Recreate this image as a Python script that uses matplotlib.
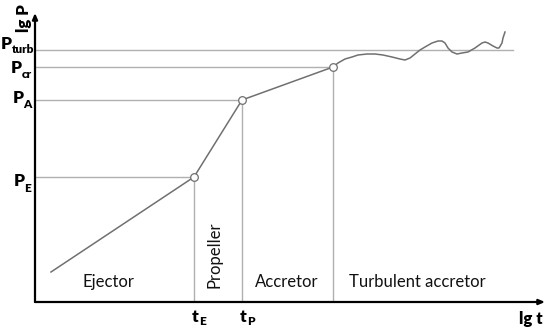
import matplotlib
matplotlib.use("Agg")
import matplotlib.pyplot as plt

plt.rcParams['font.family'] = ['Lato', 'DejaVu Sans']

# Evolution track (lg t, lg P) in arbitrary units
track_t = [16, 159, 207, 298]
track_p = [30, 125, 202, 235]

# Turbulent part of the track
turb_t = [298, 303, 310, 317, 323, 332, 340, 348, 357, 365, 370, 375, 380, 385, 390, 397,
          403, 407, 410, 413, 417, 422, 427, 433, 440, 447, 450, 453, 458, 462, 464, 467, 468, 470]
turb_p = [235, 239, 243, 245, 247, 248, 248, 247, 245, 243, 242, 244, 248, 252, 255, 259,
          261, 261, 259, 254, 250, 248, 249, 250, 254, 259, 260, 259, 256, 254, 254, 259, 264, 270]

# Characteristic periods and times
p_levels = [125, 202, 235, 252]
p_labels = ['E', 'A', 'cr', 'turb']
t_marks = [159, 207, 298]
t_labels = ['E', 'P']

regions = ['Ejector', 'Propeller', 'Accretor', 'Turbulent accretor']
region_x = [73, 180, 252, 382]

W, H = 550, 334
fig = plt.figure(figsize=(W / 100, H / 100), dpi=100)
x0, y0, x1, y1 = 35, 302, 545, 13
ax = fig.add_axes([x0 / W, (H - y0) / H, (x1 - x0) / W, (y0 - y1) / H])
ax.set_xlim(0, x1 - x0)
ax.set_ylim(0, y0 - y1)
ax.axis('off')

guide = '#b0b0b0'
curve = '#707070'

# horizontal guides
for i, p in enumerate(p_levels):
    xe = track_t[i + 1] if i < 3 else 478
    ax.plot([0, xe], [p, p], color=guide, lw=1.0, zorder=1)
# vertical guides
for i, t in enumerate(t_marks):
    ax.plot([t, t], [0, track_p[i + 1]], color=guide, lw=1.0, zorder=1)

ax.plot(track_t, track_p, color=curve, lw=1.1, zorder=2)
ax.plot(turb_t, turb_p, color=curve, lw=1.1, zorder=2, solid_joinstyle='round')
ax.plot(track_t[1:], track_p[1:], 'o', mfc='white', mec=curve, ms=5.5, mew=0.9, zorder=3)

# axes arrows
ap = dict(arrowstyle='-|>,head_length=0.35,head_width=0.15', color='black', lw=1.6,
          shrinkA=0, shrinkB=0)
ax.annotate('', xy=(x1 - x0, 0), xytext=(0, 0), arrowprops=ap, annotation_clip=False)
ax.annotate('', xy=(0, y0 - y1), xytext=(0, 0), arrowprops=ap, annotation_clip=False)

PX = 0.72  # points per pixel


def sub_label(x, y, main, sub, dx, dy, size=12.5, subsize=8.5):
    ax.text(x, y, main, fontsize=size, fontweight='heavy', ha='left', va='baseline',
            clip_on=False)
    ax.annotate(sub, xy=(x, y), xycoords='data', xytext=(dx * PX, -dy * PX),
                textcoords='offset points', fontsize=subsize, fontweight='heavy',
                ha='left', va='baseline', annotation_clip=False)


# P labels (left x, baseline)
p_lx = [-21, -22, -24, -34]
p_base = [116, 199, 229, 253]
p_drop = [6, 5, 5, 4]
for lab, lx, by, dr in zip(p_labels, p_lx, p_base, p_drop):
    sub_label(lx, by, 'P', lab, 10.5, dr)
# t labels
for t, lab in zip(t_marks[:2], t_labels):
    sub_label(t - 2, -20, 't', lab, 7.5, 3)

ax.text(496, -17, 'lg t', fontsize=12, fontweight='heavy', ha='center', va='center',
        clip_on=False)
ax.text(-11, 284, 'lg P', fontsize=12, fontweight='heavy', ha='center', va='center',
        rotation=90, clip_on=False)

for name, x in zip(regions, region_x):
    if name == 'Propeller':
        ax.text(x, 47, name, fontsize=12, ha='center', va='center', rotation=90, color='#111111')
    else:
        ax.text(x, 20, name, fontsize=12, ha='center', va='center', color='#111111')

fig.savefig('out.png', dpi=100)
